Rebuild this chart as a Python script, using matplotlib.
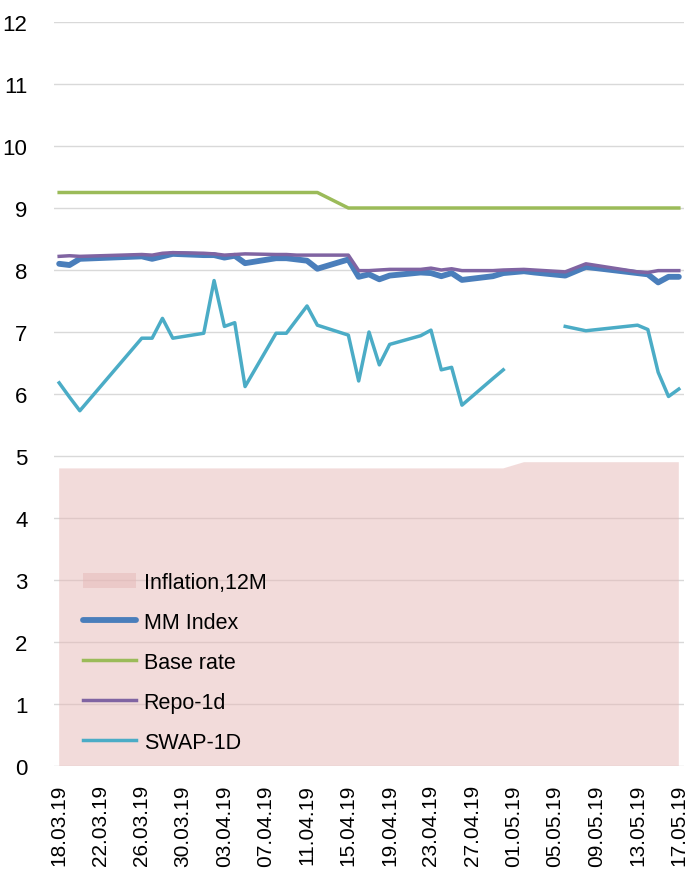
import numpy as np
import pandas as pd
import matplotlib
matplotlib.use("Agg")
import matplotlib.pyplot as plt

plt.rcParams['font.family'] = ['Liberation Sans', 'DejaVu Sans']

dates = ["18.03.19", "19.03.19", "20.03.19", "26.03.19", "27.03.19", "28.03.19", "29.03.19",
         "01.04.19", "02.04.19", "03.04.19", "04.04.19", "05.04.19",
         "08.04.19", "09.04.19", "10.04.19", "11.04.19", "12.04.19",
         "15.04.19", "16.04.19", "17.04.19", "18.04.19", "19.04.19",
         "22.04.19", "23.04.19", "24.04.19", "25.04.19", "26.04.19",
         "29.04.19", "30.04.19", "02.05.19", "03.05.19", "06.05.19", "08.05.19",
         "13.05.19", "14.05.19", "15.05.19", "16.05.19", "17.05.19"]

inflation = [4.8, 4.8, 4.8, 4.8, 4.8, 4.8, 4.8,
             4.8, 4.8, 4.8, 4.8, 4.8,
             4.8, 4.8, 4.8, 4.8, 4.8,
             4.8, 4.8, 4.8, 4.8, 4.8,
             4.8, 4.8, 4.8, 4.8, 4.8,
             4.8, 4.8, 4.9, 4.9, 4.9, 4.9,
             4.9, 4.9, 4.9, 4.9, 4.9]

mm_index = [8.10, 8.08, 8.18, 8.22, 8.18, 8.22, 8.26,
            8.24, 8.24, 8.20, 8.23, 8.11,
            8.19, 8.19, 8.17, 8.15, 8.02,
            8.17, 7.89, 7.93, 7.85, 7.91,
            7.96, 7.95, 7.90, 7.95, 7.84,
            7.90, 7.95, 7.98, 7.96, 7.91, 8.05,
            7.95, 7.93, 7.80, 7.89, 7.89]

base_rate = [9.25, 9.25, 9.25, 9.25, 9.25, 9.25, 9.25,
             9.25, 9.25, 9.25, 9.25, 9.25,
             9.25, 9.25, 9.25, 9.25, 9.25,
             9.0, 9.0, 9.0, 9.0, 9.0,
             9.0, 9.0, 9.0, 9.0, 9.0,
             9.0, 9.0, 9.0, 9.0, 9.0, 9.0,
             9.0, 9.0, 9.0, 9.0, 9.0]

repo_1d = [8.22, 8.23, 8.22, 8.25, 8.24, 8.27, 8.28,
           8.27, 8.26, 8.24, 8.25, 8.26,
           8.25, 8.25, 8.24, 8.24, 8.24,
           8.24, 7.99, 7.99, 8.00, 8.01,
           8.01, 8.03, 8.00, 8.02, 7.99,
           7.99, 8.00, 8.01, 8.00, 7.97, 8.10,
           7.97, 7.96, 7.99, 7.99, 7.99]

swap_1d = [6.18, 5.95, 5.73, 6.90, 6.90, 7.22, 6.90,
           6.98, 7.83, 7.09, 7.15, 6.12,
           6.98, 6.98, 7.20, 7.42, 7.11,
           6.95, 6.21, 7.00, 6.47, 6.80,
           6.94, 7.03, 6.39, 6.43, 5.82,
           6.25, 6.39, np.nan, np.nan, 7.09, 7.02,
           7.11, 7.04, 6.35, 5.96, 6.08]

tick_labels = ["18.03.19", "22.03.19", "26.03.19", "30.03.19", "03.04.19", "07.04.19",
               "11.04.19", "15.04.19", "19.04.19", "23.04.19", "27.04.19", "01.05.19",
               "05.05.19", "09.05.19", "13.05.19", "17.05.19"]

x = pd.to_datetime(dates, format="%d.%m.%y")
ticks = pd.to_datetime(tick_labels, format="%d.%m.%y")

fig = plt.figure(figsize=(6.88, 8.70), dpi=100)
ax = fig.add_axes([54/688, (870-767)/870, (684-54)/688, (767-23)/870])

ax.fill_between(x, 0, inflation, facecolor='#e6b8b7', alpha=0.5, linewidth=0,
                label='Inflation,12M', zorder=1)
ax.plot(x, mm_index, color='#4a7ebb', lw=4.2, label='MM Index', zorder=3,
        solid_capstyle='round')
ax.plot(x, base_rate, color='#9bbb59', lw=2.5, label='Base rate', zorder=4)
ax.plot(x, repo_1d, color='#8064a2', lw=2.5, label='Repo-1d', zorder=5)
ax.plot(x, swap_1d, color='#4bacc6', lw=2.5, label='SWAP-1D', zorder=6)

ax.set_ylim(0, 12)
ax.set_yticks(range(0, 13))
ax.set_xlim(x[0] - pd.Timedelta(hours=12), x[-1] + pd.Timedelta(hours=12))
ax.set_xticks(ticks)
ax.set_xticklabels(tick_labels, rotation=90, fontsize=15)
ax.tick_params(axis='y', labelsize=16, length=0, pad=19)
ax.tick_params(axis='x', length=0, pad=13)
ax.grid(axis='y', color='#d9d9d9', lw=1)
ax.set_axisbelow(True)
for s in ax.spines.values():
    s.set_visible(False)

leg = ax.legend(loc='lower left', bbox_to_anchor=(0.046, 0.018), frameon=False,
                fontsize=15.5, handlelength=2.45, handletextpad=0.37, labelspacing=0.88,
                borderaxespad=0, borderpad=0)

fig.savefig('out.png', dpi=100)
